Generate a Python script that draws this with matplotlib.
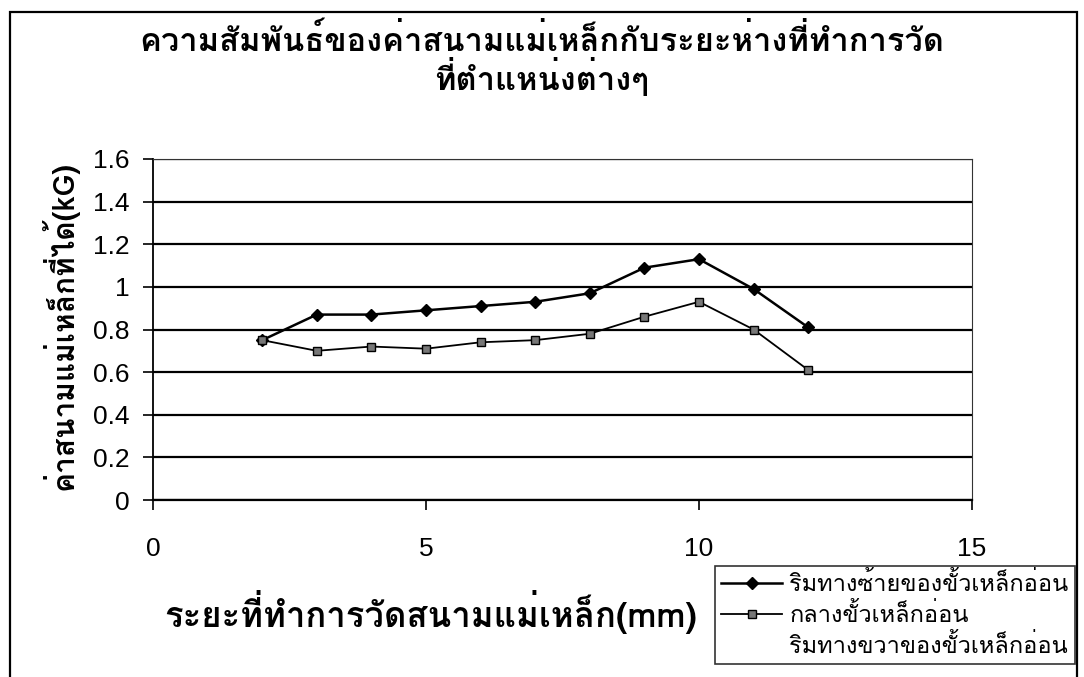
import matplotlib
matplotlib.use('Agg')
import matplotlib.pyplot as plt
from matplotlib import font_manager
from matplotlib.ft2font import FT2Font
from matplotlib.patches import Rectangle

# data
distance = [2, 3, 4, 5, 6, 7, 8, 9, 10, 11, 12]
left_edge = [0.75, 0.87, 0.87, 0.89, 0.91, 0.93, 0.97, 1.09, 1.13, 0.99, 0.81]
middle = [0.75, 0.70, 0.72, 0.71, 0.74, 0.75, 0.78, 0.86, 0.93, 0.80, 0.61]
right_edge = []  # no points visible for this series

series_names = ['ริมทางซ้ายของขั้วเหล็กอ่อน', 'กลางขั้วเหล็กอ่อน', 'ริมทางขวาของขั้วเหล็กอ่อน']
title_lines = ['ความสัมพันธ์ของค่าสนามแม่เหล็กกับระยะห่างที่ทำการวัด', 'ที่ตำแหน่งต่างๆ']
xlabel = 'ระยะที่ทำการวัดสนามแม่เหล็ก(mm)'
ylabel = 'ค่าสนามแม่เหล็กที่ได้(kG)'
yticks = [0, 0.2, 0.4, 0.6, 0.8, 1, 1.2, 1.4, 1.6]
xticks = [0, 5, 10, 15]


def thai_font():
    # pick any installed family that has Thai glyphs
    for f in font_manager.fontManager.ttflist:
        try:
            if FT2Font(f.fname).get_char_index(0x0E01):
                return f.name
        except Exception:
            pass
    return 'DejaVu Sans'


thai = thai_font()
plt.rcParams['font.family'] = [thai, 'Liberation Sans', 'DejaVu Sans']

W, H = 1084, 677
fig = plt.figure(figsize=(W / 100, H / 100), dpi=100)
ax = fig.add_axes([153 / W, 1 - 500 / H, (972 - 153) / W, (500 - 159) / H])

ax.plot(distance, left_edge, color='black', lw=1.8, marker='D', ms=6,
        mfc='black', mec='black', label=series_names[0])
ax.plot(distance, middle, color='black', lw=1.3, marker='s', ms=6,
        mfc='#777777', mec='black', label=series_names[1])
ax.plot(right_edge, right_edge, ls='none', label=series_names[2])

ax.set_xlim(0, 15)
ax.set_ylim(0, 1.6)
ax.set_xticks(xticks)
ax.set_yticks(yticks)
ax.set_yticklabels([f'{v:g}' for v in yticks])
ax.yaxis.grid(True, color='black', lw=1.6)
ax.set_axisbelow(True)
for s in ['top', 'right']:
    ax.spines[s].set_color('#333333')
    ax.spines[s].set_linestyle((0, (3, 1)))
ax.spines['left'].set_linewidth(1.3)
ax.spines['bottom'].set_linewidth(1.6)
ax.tick_params(axis='both', direction='out', length=7, width=1.2,
               labelsize=19, labelfontfamily='Liberation Sans')
ax.tick_params(axis='x', pad=20)
ax.tick_params(axis='y', pad=10)

for line, ypix in zip(title_lines, [40, 77]):
    fig.text(0.5, 1 - ypix / H, line, ha='center', va='center',
             fontsize=23.5, fontweight='bold')
fig.text(0.397, 1 - 612 / H, xlabel, ha='center', va='center',
         fontsize=25, fontweight='bold')
fig.text(60 / W, 1 - 325 / H, ylabel, ha='center', va='center',
         rotation=90, fontsize=21.5, fontweight='bold')

# outer chart frame
fig.add_artist(Rectangle((10 / W, -0.05), 1067 / W, 1.05 - 12 / H,
                         transform=fig.transFigure, fill=False,
                         ec='black', lw=1.6))

leg = fig.legend(loc='upper left', bbox_to_anchor=(715 / W, 1 - 566 / H),
                 fontsize=17, frameon=True, fancybox=False,
                 handlelength=2.6, handletextpad=0.3, borderpad=0.25,
                 labelspacing=0.3, borderaxespad=0)
leg.get_frame().set_edgecolor('black')
leg.get_frame().set_linewidth(1.2)

fig.savefig('out.png', dpi=100)
